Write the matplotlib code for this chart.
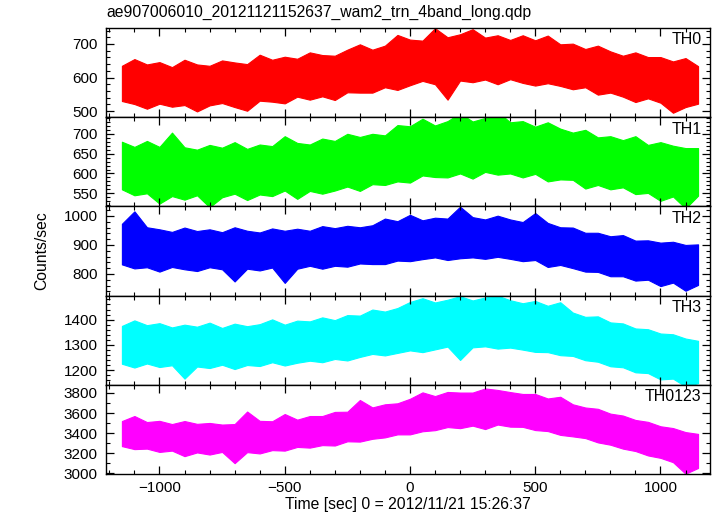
import matplotlib
matplotlib.use("Agg")
import matplotlib.pyplot as plt
from matplotlib.ticker import MultipleLocator

plt.rcParams['font.family'] = ['Liberation Sans', 'DejaVu Sans']

title = "ae907006010_20121121152637_wam2_trn_4band_long.qdp"
xlabel = "Time [sec] 0 = 2012/11/21 15:26:37"
ylabel = "Counts/sec"
bands = ["TH0", "TH1", "TH2", "TH3", "TH0123"]
colors = ["#ff0000", "#00ff00", "#0000ff", "#00ffff", "#ff00ff"]

time_s = [-1150, -1100, -1050, -1000, -950, -900, -850, -800, -750, -700,
          -650, -600, -550, -500, -450, -400, -350, -300, -250, -200,
          -150, -100, -50, 0, 50, 100, 150, 200, 250, 300,
          350, 400, 450, 500, 550, 600, 650, 700, 750, 800,
          850, 900, 950, 1000, 1050, 1100, 1150]

th0_hi = [635, 655, 639, 646, 631, 653, 639, 635, 651, 645, 640, 668, 653, 662, 656, 675,
          667, 665, 683, 699, 683, 695, 727, 713, 710, 747, 720, 729, 744, 719, 726, 712,
          726, 711, 725, 699, 701, 685, 695, 678, 665, 675, 661, 661, 648, 658, 634]
th0_lo = [530, 521, 507, 522, 513, 518, 499, 517, 524, 512, 501, 531, 528, 523, 543, 534,
          544, 533, 556, 555, 555, 571, 563, 577, 590, 580, 534, 591, 586, 594, 580, 595,
          584, 576, 583, 575, 565, 571, 549, 555, 543, 527, 538, 525, 495, 512, 522]

th1_hi = [680, 667, 682, 667, 703, 666, 660, 672, 665, 679, 662, 673, 669, 694, 677, 673,
          688, 682, 700, 692, 700, 696, 722, 719, 738, 721, 732, 752, 731, 740, 756, 729,
          732, 718, 729, 713, 703, 710, 691, 694, 684, 694, 672, 679, 670, 664, 664]
th1_lo = [560, 545, 550, 524, 543, 534, 545, 515, 540, 549, 533, 547, 543, 557, 536, 556,
          549, 557, 567, 556, 573, 571, 580, 577, 595, 591, 590, 600, 587, 604, 597, 600,
          590, 599, 580, 585, 584, 562, 571, 560, 565, 548, 551, 531, 542, 512, 544]

th2_hi = [973, 1016, 961, 954, 945, 960, 948, 954, 944, 961, 949, 943, 957, 949, 956, 949,
          965, 958, 966, 961, 968, 991, 982, 1004, 985, 994, 991, 1032, 996, 988, 1001, 988,
          979, 1010, 976, 961, 960, 942, 942, 930, 934, 915, 916, 908, 911, 900, 902]
th2_lo = [833, 819, 823, 808, 824, 816, 810, 823, 816, 774, 818, 812, 822, 769, 818, 828,
          818, 828, 825, 836, 834, 834, 846, 844, 851, 857, 848, 854, 857, 852, 859, 852,
          844, 848, 824, 831, 820, 808, 807, 792, 792, 777, 780, 758, 770, 742, 762]

th3_hi = [1375, 1397, 1378, 1386, 1369, 1380, 1372, 1388, 1367, 1384, 1374, 1382, 1401,
          1380, 1396, 1393, 1409, 1398, 1418, 1416, 1440, 1432, 1446, 1470, 1485, 1468,
          1479, 1493, 1476, 1488, 1495, 1477, 1465, 1474, 1455, 1469, 1428, 1411, 1413,
          1389, 1385, 1365, 1362, 1345, 1342, 1325, 1316]
th3_lo = [1225, 1210, 1226, 1212, 1219, 1166, 1214, 1208, 1221, 1204, 1220, 1216, 1231,
          1218, 1229, 1237, 1231, 1244, 1238, 1252, 1264, 1258, 1268, 1278, 1271, 1282,
          1293, 1240, 1290, 1294, 1285, 1289, 1281, 1272, 1271, 1259, 1256, 1239, 1233,
          1215, 1211, 1191, 1188, 1163, 1166, 1135, 1148]

th0123_hi = [3520, 3570, 3510, 3522, 3490, 3520, 3492, 3501, 3485, 3490, 3615, 3522, 3518,
             3590, 3534, 3570, 3570, 3611, 3613, 3730, 3656, 3687, 3697, 3742, 3806, 3769,
             3810, 3804, 3804, 3845, 3830, 3809, 3790, 3790, 3745, 3762, 3687, 3655, 3642,
             3594, 3575, 3531, 3512, 3468, 3450, 3410, 3392]
th0123_lo = [3270, 3240, 3245, 3212, 3225, 3170, 3207, 3186, 3212, 3100, 3210, 3197, 3230,
             3225, 3262, 3255, 3280, 3276, 3318, 3315, 3343, 3357, 3387, 3387, 3418, 3429,
             3460, 3449, 3474, 3440, 3485, 3464, 3462, 3430, 3420, 3382, 3367, 3350, 3307,
             3284, 3245, 3221, 3177, 3153, 3110, 2995, 3052]

highs = [th0_hi, th1_hi, th2_hi, th3_hi, th0123_hi]
lows = [th0_lo, th1_lo, th2_lo, th3_lo, th0123_lo]

ylims = [(482, 748), (517, 742), (725, 1033), (1141, 1495), (2990, 3880)]
ymajor = [100, 50, 100, 100, 200]
yminor = [20, 10, 20, 20, 100]

fig = plt.figure(figsize=(7.17, 5.16), dpi=100)
axes = fig.subplots(5, 1, sharex=True, gridspec_kw=dict(hspace=0))
fig.subplots_adjust(left=0.148, right=0.990, top=0.946, bottom=0.081)

for ax, hi, lo, c, name, yl, mj, mn in zip(axes, highs, lows, colors, bands, ylims, ymajor, yminor):
    ax.fill_between(time_s, lo, hi, color=c, lw=0.8, edgecolor=c)
    ax.set_ylim(*yl)
    ax.set_xlim(-1213, 1197)
    ax.yaxis.set_major_locator(MultipleLocator(mj))
    ax.yaxis.set_minor_locator(MultipleLocator(mn))
    ax.xaxis.set_major_locator(MultipleLocator(500))
    ax.xaxis.set_minor_locator(MultipleLocator(100))
    ax.tick_params(which='both', direction='in', top=True, right=True, labelsize=11, colors='black')
    ax.tick_params(which='major', length=6, width=0.9)
    ax.tick_params(which='minor', length=3, width=0.8)
    ax.tick_params(axis='y', which='major', pad=6)
    for s in ax.spines.values():
        s.set_linewidth(1.0)
    ax.text(0.986, 0.95, name, transform=ax.transAxes, ha='right', va='top', fontsize=11.5)

axes[-1].set_xlabel(xlabel, fontsize=11.3, labelpad=1)
axes[-1].tick_params(axis='x', which='major', pad=5)
fig.text(0.058, 0.515, ylabel, rotation=90, ha='center', va='center', fontsize=11.3)
fig.text(0.149, 0.975, title, ha='left', va='center', fontsize=11.3)

fig.savefig("out.png", dpi=100)
